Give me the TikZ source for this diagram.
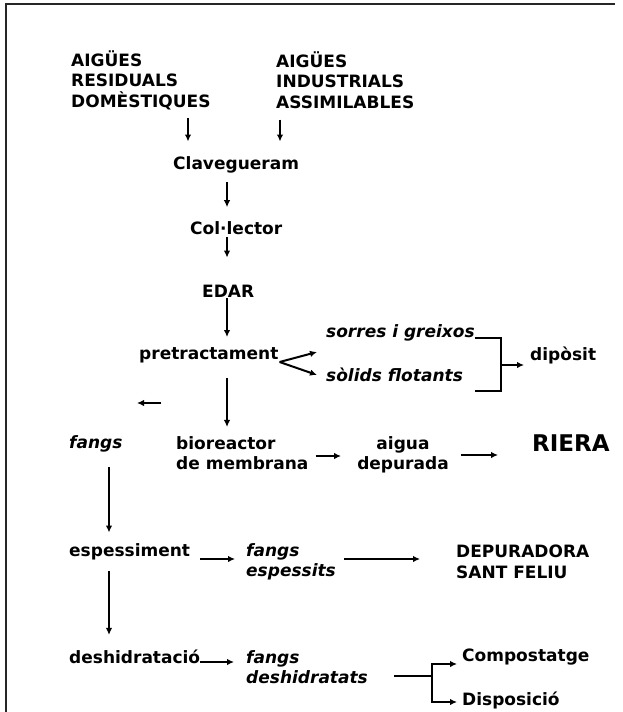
\documentclass[tikz,border=0pt]{standalone}
\usepackage{fontspec}
\setmainfont{DejaVu Sans}
\usetikzlibrary{positioning, arrows.meta}
\tikzset{
  txt/.style={inner sep=0pt, anchor=west, align=left, font=\fontsize{17}{20.5}\selectfont\bfseries},
  itx/.style={txt, font=\fontsize{17}{20.5}\selectfont\bfseries\itshape},
  arr/.style={-{Latex[length=7pt,width=6.5pt]}, line width=2pt},
  ln/.style={line width=2pt},
}

\begin{document}
\begin{tikzpicture}[x=1pt, y=-1pt]
  \useasboundingbox (0,0) rectangle (622,712);
  \draw[line width=1.8pt, black!85] (615,4) -- (6,4) -- (6,712);
  % inputs
  \node[txt] (dom) at (71,80) {AIGÜES\\RESIDUALS\\DOMÈSTIQUES};
  \node[txt] (ind) at (276,80) {AIGÜES\\INDUSTRIALS\\ASSIMILABLES};
  \node[txt] (clav) at (173,165) {Clavegueram};
  \node[txt] (col) at (190,228) {Col·lector};
  \node[txt] (edar) at (202,291) {EDAR};
  \node[txt] (pre) at (139,355) {pretractament};
  \node[itx] (sor) at (326,333) {sorres i greixos};
  \node[itx] (sol) at (326,375) {sòlids flotants};
  \node[txt] (dip) at (530,355) {dipòsit};
  % water line
  \node[itx] (fg1) at (69,444) {fangs};
  \node[txt] (bio) at (176,453) {bioreactor\\de membrana};
  \node[txt, anchor=center, align=center] (aig) at (403,455) {aigua\\depurada};
  \node[txt, font=\fontsize{23}{26}\selectfont\bfseries] (riera) at (532,443) {RIERA};
  % sludge line
  \node[txt] (esp) at (69,552) {espessiment};
  \node[itx] (fg2) at (246,562) {fangs\\espessits};
  \node[txt] (dep) at (456,562) {DEPURADORA\\SANT FELIU};
  \node[txt] (desh) at (69,657) {deshidratació};
  \node[itx] (fg3) at (246,667) {fangs\\deshidratats};
  \node[txt] (comp) at (462,657) {Compostatge};
  \node[txt] (disp) at (462,700) {Disposició};

  \coordinate (sa) at (188,0); \coordinate (sb) at (280,0);
  \coordinate (sp) at (227,0); \coordinate (sf) at (109,0);

  \draw[arr, shorten <=8pt, shorten >=15pt] (dom.south -| sa) -- (clav.north -| sa);
  \draw[arr, shorten <=11pt, shorten >=15pt] (ind.south -| sb) -- (clav.north -| sb);
  \draw[arr, shorten <=9pt, shorten >=14pt] (clav.south -| sp) -- (col.north -| sp);
  \draw[arr, shorten <=2pt, shorten >=27pt] (col.south -| sp) -- (edar.north -| sp);
  \draw[arr, shorten <=1pt, shorten >=10pt] (edar.south -| sp) -- (pre.north -| sp);
  \draw[arr, shorten <=15pt, shorten >=9pt] (pre.south -| sp) -- (bio.north -| sp);

  \draw[arr] ([shift={(1,7)}]pre.east) -- ([shift={(-9,19)}]sor.west);
  \draw[arr] ([shift={(1,7)}]pre.east) -- ([shift={(-9,0)}]sol.west);
  \draw[ln] ([shift={(0,5)}]sor.east) -- ++(26,0) coordinate (brk) -- ++(0,53) -- ++(-26,0);
  \path ([shift={(-6,10)}]dip.west) coordinate (dipin);
  \draw[arr] (brk |- dipin) -- (dipin);

  \coordinate (stub) at (161,403);
  \draw[arr] (stub) -- ++(-24,0);

  \draw[arr] ([shift={(7,3)}]bio.east) -- ([shift={(-16,1)}]aig.west);
  \draw[arr, shorten <=12pt, shorten >=34pt] (aig.east) -- (aig.east -| riera.west);

  \draw[arr, shorten <=15pt, shorten >=11pt] (fg1.south -| sf) -- (esp.north -| sf);
  \draw[arr, shorten <=11pt, shorten >=15pt] (esp.south -| sf) -- (desh.north -| sf);
  \draw[arr] ([shift={(10,7)}]esp.east) -- ([shift={(-11,-3)}]fg2.west);
  \draw[arr] ([shift={(8,-3)}]fg2.east) -- ([shift={(-36,-3)}]dep.west);
  \draw[arr] ([shift={(0,5)}]desh.east) -- ([shift={(-12,-5)}]fg3.west);
  \draw[ln] ([shift={(26,9)}]fg3.east) -- ++(38,0) coordinate (fk);
  \draw[arr] (fk) |- ([shift={(-5,7)}]comp.west);
  \draw[arr] (fk) |- ([shift={(-5,2)}]disp.west);
\end{tikzpicture}
\end{document}
